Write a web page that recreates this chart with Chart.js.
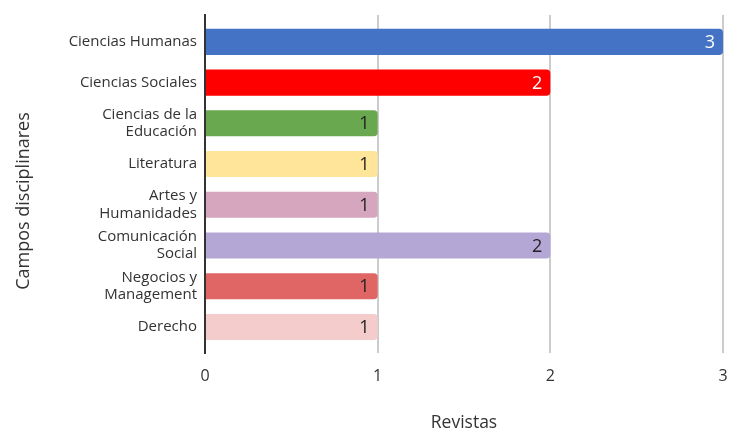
<!DOCTYPE html>
<html>
<head>
<meta charset="utf-8">
<script src="https://cdn.jsdelivr.net/npm/chart.js@4/dist/chart.umd.min.js"></script>
<style>
html,body{margin:0;padding:0;background:#fff;}
#wrap{width:732px;height:434px;position:relative;}
</style>
</head>
<body>
<div id="wrap"><canvas id="c"></canvas></div>
<script>
const categories = [
  "Ciencias Humanas",
  "Ciencias Sociales",
  ["Ciencias de la", "Educación"],
  "Literatura",
  ["Artes y", "Humanidades"],
  ["Comunicación", "Social"],
  ["Negocios y", "Management"],
  "Derecho"
];
const revistas = [3, 2, 1, 1, 1, 2, 1, 1];
const barColors = ["#4472C4", "#FF0000", "#6AA84F", "#FFE599", "#D5A6BD", "#B4A7D6", "#E06666", "#F4CCCC"];
const labelColors = ["#ffffff", "#ffffff", "#222222", "#222222", "#222222", "#222222", "#222222", "#222222"];
const xTicks = [0, 1, 2, 3];
const xTitle = "Revistas";
const yTitle = "Campos disciplinares";

const FONT = "'Open Sans', 'Noto Sans', sans-serif";
const points = revistas.map((v, i) => ({ x: v, y: i }));

const valueLabels = {
  id: 'valueLabels',
  afterDatasetsDraw(chart) {
    const ctx = chart.ctx;
    const meta = chart.getDatasetMeta(0);
    ctx.save();
    ctx.font = "18px " + FONT;
    ctx.textAlign = 'right';
    ctx.textBaseline = 'middle';
    meta.data.forEach((bar, i) => {
      ctx.fillStyle = labelColors[i];
      ctx.fillText(String(revistas[i]), bar.x - 8, bar.y + 1);
    });
    ctx.restore();
  }
};

const yTitlePlugin = {
  id: 'yTitlePlugin',
  afterDraw(chart) {
    const ctx = chart.ctx;
    const a = chart.chartArea;
    ctx.save();
    ctx.translate(24, (a.top + a.bottom) / 2 + 17);
    ctx.rotate(-Math.PI / 2);
    ctx.font = "18px " + FONT;
    ctx.fillStyle = '#333333';
    ctx.textAlign = 'center';
    ctx.textBaseline = 'middle';
    ctx.fillText(yTitle, 0, 0);
    ctx.restore();
  }
};

new Chart(document.getElementById('c'), {
  type: 'bar',
  data: {
    datasets: [{
      data: points,
      backgroundColor: barColors,
      borderRadius: 4,
      borderSkipped: 'start',
      categoryPercentage: 1,
      barPercentage: 0.64
    }]
  },
  options: {
    indexAxis: 'y',
    responsive: true,
    maintainAspectRatio: false,
    animation: false,
    layout: { padding: { left: 10, right: 9, top: 15, bottom: 0 } },
    plugins: { legend: { display: false }, tooltip: { enabled: false } },
    scales: {
      x: {
        type: 'linear',
        min: 0, max: 3,
        afterBuildTicks(s) { s.ticks = xTicks.map(v => ({ value: v })); },
        afterFit(s) { s.height = 81; s.paddingLeft = 0; s.paddingRight = 0; },
        grid: { color: '#cccccc', lineWidth: 2, drawTicks: false },
        border: { display: false },
        ticks: { color: '#333333', font: { family: FONT, size: 16 }, padding: 14 },
        title: { display: true, text: xTitle, color: '#333333', font: { family: FONT, size: 17.5 }, padding: { top: 0, bottom: 0 } }
      },
      y: {
        type: 'linear',
        reverse: true,
        offset: false,
        min: -0.66,
        max: 7.64,
        afterBuildTicks(s) { s.ticks = categories.map((c, i) => ({ value: i })); },
        afterFit(s) { s.width = 195; s.paddingTop = 0; s.paddingBottom = 0; },
        grid: { display: false, drawTicks: false, offset: false },
        border: { display: true, color: '#333333', width: 2 },
        ticks: {
          color: '#333333',
          font: { family: FONT, size: 15, lineHeight: 1.15 },
          padding: 8,
          autoSkip: false,
          callback: (v) => categories[v]
        },
        title: { display: false }
      }
    }
  },
  plugins: [valueLabels, yTitlePlugin]
});
</script>
</body>
</html>
